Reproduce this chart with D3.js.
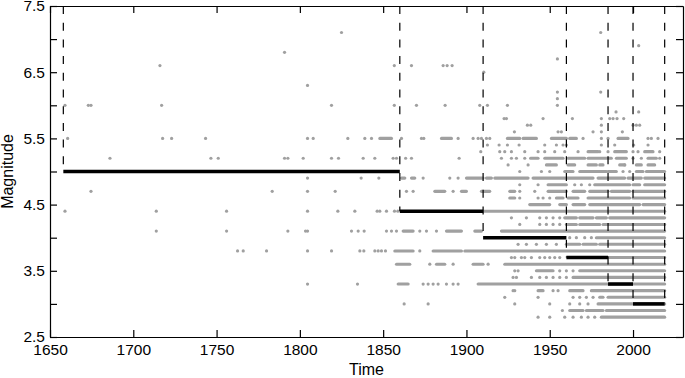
<!DOCTYPE html>
<html>
<head>
<meta charset="utf-8">
<script src="https://cdn.jsdelivr.net/npm/d3@7"></script>
<style>
  body { margin: 0; background: #fff; }
  svg { display: block; font-family: "Liberation Sans", Arial, sans-serif; }
  .axis path, .axis line { stroke: #000; stroke-width: 1.2; }
  .axis text { font-size: 15.5px; fill: #000; }
  .title { font-size: 16px; fill: #000; }
</style>
</head>
<body>
<script>
//==============================================================================
// DATA
//==============================================================================

const xTicks = [1650, 1700, 1750, 1800, 1850, 1900, 1950, 2000];
const yTicks = [2.5, 3, 3.5, 4, 4.5, 5, 5.5, 6, 6.5, 7, 7.5];
const yTickLabels = ['2.5', '', '3.5', '', '4.5', '', '5.5', '', '6.5', '', '7.5'];

// completeness periods
const mcStart = [1658, 1860, 1910, 1960, 1985, 2000];
const mcEnd = [1860, 1910, 1960, 1985, 2000, 2019];
const mcValue = [5.0, 4.4, 4.0, 3.7, 3.3, 3.0];

// isolated events, one row per magnitude: [magnitude, [years]]
const eventRows = [
  [7.1, [1825, 1980.6]],
  [6.9, [2003.4]],
  [6.8, [1790.8]],
  [6.7, [1954.6]],
  [6.6, [1716, 1856.7, 1867, 1886, 1888.4, 1891.4]],
  [6.5, [1910.4]],
  [6.3, [1804.6]],
  [6.2, [1954.6, 1980.6]],
  [6.1, [1954.6]],
  [6.0, [1659, 1673, 1674.6, 1717, 1819, 1856.7, 1870, 1887.2, 1908, 1912.6, 1924.6, 1954.6]],
  [5.9, [1989.8, 2003.4]],
  [5.8, [1922.6, 1924, 1946, 1963.6, 1981, 1986, 1988, 1990.4, 1994.4]],
  [5.7, [1936.6, 1938.6, 1981, 2000, 2002, 2004]],
  [5.6, [1928.8, 1955, 1957, 1976, 1981, 1993.6]],
  [5.5, [1660.6, 1717.6, 1723, 1743.4, 1804.6, 1808, 1828.8, 1839, 1843, 1861, 1873, 1874.4, 1895, 1904, 1907, 1909, 1912, 1914, 1970, 1981, 1985, 2009, 2011, 2015]],
  [5.4, [1912.6, 1919.6, 1924.6, 1931.6, 1947, 1954, 1958, 1960, 1981, 1989, 2000.4, 2009]],
  [5.3, [1908.6, 1920, 1923, 1927, 1935, 1943, 1947, 1953, 1959, 1967, 1980, 1985, 2000, 2003, 2016]],
  [5.2, [1686, 1746.6, 1751, 1790.8, 1792.8, 1802, 1819, 1823.2, 1838, 1845, 1856, 1858, 1863.5, 1867, 1895.6, 1921, 1927, 1930, 1935, 2000, 2005, 2016]],
  [5.1, [1925, 1937, 1995]],
  [5.0, [1932, 1945, 1950, 1994, 1998]],
  [4.9, [1804.6, 1836.8, 1847.4, 1874, 1890, 1895]],
  [4.8, [1932, 1943, 1965, 1969, 1974]],
  [4.7, [1674.6, 1783.4, 1804.6, 1821.2, 1864, 1868, 1892, 1932, 1941]],
  [4.6, [1932, 1943, 1946, 1950]],
  [4.4, [1659, 1713.8, 1756, 1804.6, 1822.8, 1833, 1846.4, 1848, 1852, 1856.8, 1858.8]],
  [4.3, [1927, 1936, 1944, 1948, 1952, 1956]],
  [4.2, [1932, 1944, 1948, 1952, 1956]],
  [4.1, [1713.8, 1756, 1792.8, 1803.4, 1804.6, 1831, 1835, 1838.6, 1852, 1855, 1858, 1872, 1876, 1882]],
  [4.0, [1962, 1966, 1971, 1975]],
  [3.9, [1931, 1936, 1942, 1948, 1954]],
  [3.8, [1762.6, 1766, 1780, 1804.6, 1819, 1836, 1838.4, 1845, 1847, 1849, 1851.4, 1872]],
  [3.7, [1927, 1929, 1933, 1935, 1939, 1944, 1947, 1950, 1953, 1956]],
  [3.6, [1878, 1892, 1913]],
  [3.5, [1929, 1931, 1956, 1960, 1964]],
  [3.4, [1928, 1930, 1939, 1944, 1948, 1952, 1956, 1960]],
  [3.3, [1804.6, 1834.6, 1874, 1877, 1880, 1883, 1888, 1892, 1895]],
  [3.2, [1928, 1929, 1952, 1955]],
  [3.1, [1923, 1943, 1964, 1968, 1972, 1976]],
  [3.0, [1862.6, 1877, 1929, 1950, 1962, 1968, 1973]],
  [2.9, [1957.6]],
  [2.8, [1943, 1950, 1959, 1964, 1969, 1973, 1977]]
];

// stretches where events overlap into a solid row: [magnitude, [[from, to]]]
const swarmRows = [
  [5.5, [[1848, 1855], [1885, 1891], [1924.6, 1932], [1934, 1942], [1951, 1960], [1962, 1966], [1991, 1997]]],
  [5.3, [[1973, 1979], [1989, 1996], [2007, 2012]]],
  [5.2, [[1938.5, 1943], [1947, 1958], [1961, 1971], [1973, 1987], [1990, 1996], [2009, 2014]]],
  [5.1, [[1948, 1954], [1961, 1965], [1973, 1978], [1980, 1982], [1992, 1995], [2002, 2005], [2009, 2013]]],
  [5.0, [[1959, 1964], [1968, 1984], [1985, 1990], [2002, 2006], [2008, 2019]]],
  [4.9, [[1861, 1863], [1867, 1869], [1900, 1910], [1912, 1915], [1917, 1937], [1940, 1976], [1979, 1995], [1997, 2005], [2007, 2019]]],
  [4.8, [[1949, 1960], [1977, 1998], [2000, 2004], [2007, 2019]]],
  [4.7, [[1881, 1887], [1897, 1900], [1909, 1914], [1926, 1929], [1949, 1960], [1964, 1971], [1974, 1985], [1987, 1998], [2000, 2019]]],
  [4.6, [[1926, 1929], [1954, 1958], [1961, 1967], [1973, 1998], [2000, 2019]]],
  [4.5, [[1938, 1950], [1956, 1960], [1964, 1971], [1974, 1985], [1986, 2004], [2006, 2019]]],
  [4.4, [[1910, 2019]]],
  [4.3, [[1959, 1966], [1968, 1976], [1978, 1984], [1986, 2019]]],
  [4.2, [[1960, 1966], [1968, 1980], [1982, 2019]]],
  [4.1, [[1862, 1868], [1888, 1897], [1905, 1909], [1921, 2019]]],
  [4.0, [[1978, 2019]]],
  [3.9, [[1960, 1968], [1970, 1978], [1980, 2019]]],
  [3.8, [[1857, 1868], [1880, 1897], [1899, 2019]]],
  [3.7, [[1985, 2019]]],
  [3.6, [[1858, 1866], [1882, 1887], [1904, 1910], [1923, 2019]]],
  [3.5, [[1942, 1952], [1968, 2019]]],
  [3.4, [[1964, 2019]]],
  [3.3, [[1859, 1865], [1907, 2019]]],
  [3.2, [[1943, 1946], [1962, 1970], [1975, 2019]]],
  [3.1, [[1980, 1982], [1985, 2019]]],
  [3.0, [[1979, 2019]]],
  [2.9, [[1962, 1970], [1972, 1982], [1984, 2019]]],
  [2.8, [[1981, 2019]]]
];

//==============================================================================
// PARAMETERS
//==============================================================================

const W = 685, H = 378;
const margin = { top: 6, right: 2, bottom: 41, left: 50 };
const width = W - margin.left - margin.right;
const height = H - margin.top - margin.bottom;
const grey = '#a0a0a0';

const x = d3.scaleLinear().domain([1650, 2030]).range([0, width]);
const y = d3.scaleLinear().domain([2.5, 7.5]).range([height, 0]);

const svg = d3.select('body').append('svg')
  .attr('width', W)
  .attr('height', H)
  .append('g')
  .attr('transform', `translate(${margin.left},${margin.top})`);

//==============================================================================
// DRAW
//==============================================================================

// flatten rows
const events = eventRows.flatMap(([m, yrs]) => yrs.map(t => ({ t, m })));
const swarms = swarmRows.flatMap(([m, spans]) => spans.map(([a, b]) => ({ a, b, m })));

// dense stretches
svg.append('g').selectAll('line')
  .data(swarms)
  .enter().append('line')
  .attr('x1', d => x(d.a))
  .attr('x2', d => x(d.b))
  .attr('y1', d => y(d.m))
  .attr('y2', d => y(d.m))
  .attr('stroke', grey)
  .attr('stroke-width', 3.1)
  .attr('stroke-linecap', 'round');

// single events
svg.append('g').selectAll('circle')
  .data(events)
  .enter().append('circle')
  .attr('cx', d => x(d.t))
  .attr('cy', d => y(d.m))
  .attr('r', 1.6)
  .attr('fill', grey);

// period boundaries (dashed)
const bounds = mcStart.map((t, i) => ({ t, m: mcValue[i] }))
  .concat([{ t: mcEnd[mcEnd.length - 1], m: mcValue[mcValue.length - 1] }]);

svg.append('g').selectAll('line')
  .data(bounds)
  .enter().append('line')
  .attr('x1', d => x(d.t))
  .attr('x2', d => x(d.t))
  .attr('y1', y(7.5))
  .attr('y2', d => y(d.m))
  .attr('stroke', '#000')
  .attr('stroke-width', 1.2)
  .attr('stroke-dasharray', '8,8.7');

// completeness steps
svg.append('g').selectAll('line')
  .data(mcValue.map((m, i) => ({ a: mcStart[i], b: mcEnd[i], m })))
  .enter().append('line')
  .attr('x1', d => x(d.a))
  .attr('x2', d => x(d.b))
  .attr('y1', d => y(d.m))
  .attr('y2', d => y(d.m))
  .attr('stroke', '#000')
  .attr('stroke-width', 3.5);

// axes, ticks inward on all sides
svg.append('g')
  .attr('class', 'axis')
  .attr('transform', `translate(0,${height})`)
  .call(d3.axisBottom(x).tickValues(xTicks).tickFormat(d3.format('d'))
    .tickSizeInner(-7).tickSizeOuter(0).tickPadding(7));

svg.append('g')
  .attr('class', 'axis')
  .call(d3.axisTop(x).tickValues(xTicks).tickFormat('')
    .tickSizeInner(-7).tickSizeOuter(0));

svg.append('g')
  .attr('class', 'axis')
  .call(d3.axisLeft(y).tickValues(yTicks).tickFormat((d, i) => yTickLabels[i])
    .tickSizeInner(-7).tickSizeOuter(0).tickPadding(5));

svg.append('g')
  .attr('class', 'axis')
  .attr('transform', `translate(${width},0)`)
  .call(d3.axisRight(y).tickValues(yTicks).tickFormat('')
    .tickSizeInner(-7).tickSizeOuter(0));

// axis titles
svg.append('text')
  .attr('class', 'title')
  .attr('x', width / 2)
  .attr('y', height + 38)
  .attr('text-anchor', 'middle')
  .text('Time');

svg.append('text')
  .attr('class', 'title')
  .attr('transform', `translate(${-margin.left + 13},${height / 2}) rotate(-90)`)
  .attr('text-anchor', 'middle')
  .text('Magnitude');
</script>
</body>
</html>
